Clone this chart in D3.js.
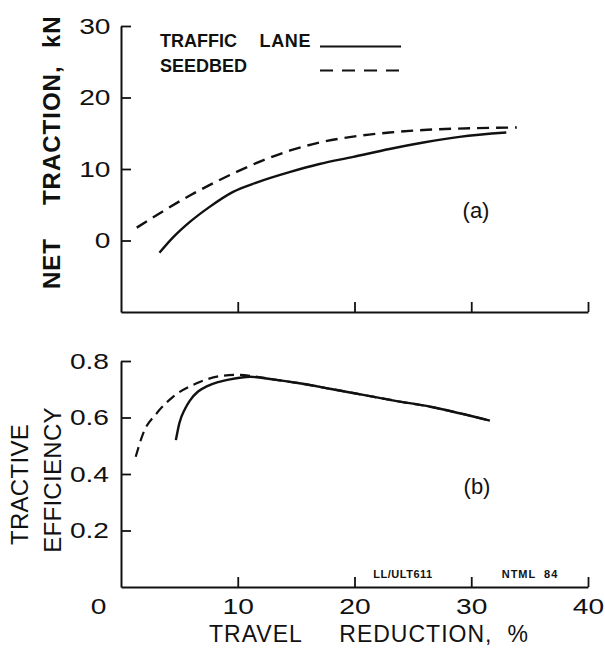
<!DOCTYPE html>
<html>
<head>
<meta charset="utf-8">
<script src="https://cdn.jsdelivr.net/npm/d3@7/dist/d3.min.js"></script>
<style>
  html, body { margin: 0; padding: 0; background: #fff; }
  svg { display: block; }
  text { font-family: "Liberation Sans", Arial, Helvetica, sans-serif; fill: #111; white-space: pre; }
</style>
</head>
<body>
<svg id="chart" width="605" height="654"></svg>
<script>
// ---- Data ----
// (a) Net traction, kN vs travel reduction, %
const tracTrafficX = [3.3, 4.5, 5.9, 7.5, 9.6, 11.6, 14.5, 17, 19.9, 23, 25.9, 29, 33.0];
const tracTrafficY = [-1.7, 0.5, 2.6, 4.6, 6.8, 8.1, 9.6, 10.7, 11.7, 12.8, 13.7, 14.5, 15.1];
const tracSeedX = [1.35, 3.5, 5.9, 8, 9.9, 12, 14.5, 17, 20.2, 23, 25.9, 30, 33.9];
const tracSeedY = [1.8, 4.0, 6.3, 8.1, 9.6, 11.1, 12.6, 13.7, 14.6, 15.1, 15.45, 15.7, 15.8];
// (b) Tractive efficiency vs travel reduction, %
const effTrafficX = [4.7, 5.0, 5.5, 5.9, 6.6, 7.34, 8.3, 9.34, 11.05, 13, 15, 18, 20.75, 23.5, 26.5, 29, 31.6];
const effTrafficY = [0.52, 0.58, 0.632, 0.660, 0.692, 0.710, 0.725, 0.735, 0.744, 0.735, 0.723, 0.701, 0.680, 0.659, 0.638, 0.615, 0.589];
const effSeedX = [1.26, 1.9, 3.06, 4.48, 6.48, 8.77, 10.2, 11.5, 13, 15, 18, 20.75, 23.5, 26.5, 29, 31.6];
const effSeedY = [0.461, 0.544, 0.615, 0.674, 0.721, 0.748, 0.751, 0.745, 0.735, 0.723, 0.701, 0.680, 0.659, 0.638, 0.615, 0.589];
// Ticks
const xTicks = [0, 10, 20, 30, 40];
const yTopTicks = [0, 10, 20, 30];
const yBotTicks = [0.2, 0.4, 0.6, 0.8];
const legendLabels = ["TRAFFIC LANE", "SEEDBED"];

// ---- Chart ----
const svg = d3.select("#chart");
svg.append("rect").attr("width", 605).attr("height", 654).attr("fill", "#fff");

const DX = 1.28; // wide digits of the printed tick labels

const x = d3.scaleLinear().domain([0, 40]).range([121, 588]);
const yTop = d3.scaleLinear().domain([-10, 30]).range([312, 26]);
const yBot = d3.scaleLinear().domain([0, 0.8]).range([587, 361]);

function styleAxis(g) {
  g.select(".domain").attr("stroke", "#111").attr("stroke-width", 2);
  g.selectAll(".tick line").attr("stroke", "#111").attr("stroke-width", 1.8);
  g.selectAll(".tick text").attr("font-size", 22).attr("fill", "#111")
    .attr("font-family", "Liberation Sans, Arial, sans-serif");
}

// Top panel axes
const gTopX = svg.append("g").attr("transform", `translate(0,${yTop(-10)})`)
  .call(d3.axisBottom(x).tickValues([10, 20, 30, 40]).tickSize(-10).tickSizeOuter(0).tickFormat(""));
styleAxis(gTopX);

const gTopY = svg.append("g").attr("transform", `translate(${x(0)},0)`)
  .call(d3.axisLeft(yTop).tickValues(yTopTicks).tickSize(-10).tickSizeOuter(0).tickPadding(10).tickFormat(d3.format("d")));
styleAxis(gTopY);
gTopY.selectAll(".tick text").attr("x", -10.5 / DX).attr("transform", `scale(${DX},1)`);

// Bottom panel axes
const gBotX = svg.append("g").attr("transform", `translate(0,${yBot(0)})`)
  .call(d3.axisBottom(x).tickValues(xTicks).tickSize(-10).tickSizeOuter(0).tickPadding(11).tickFormat(d3.format("d")));
styleAxis(gBotX);
gBotX.selectAll(".tick text").attr("transform", `scale(${DX},1)`)
  .filter(d => d === 0).attr("x", -23 / DX);
gBotX.selectAll(".tick line").filter(d => d === 0).remove();

const gBotY = svg.append("g").attr("transform", `translate(${x(0)},0)`)
  .call(d3.axisLeft(yBot).tickValues(yBotTicks).tickSize(-10).tickSizeOuter(0).tickPadding(10).tickFormat(d3.format(".1f")));
styleAxis(gBotY);
gBotY.selectAll(".tick text").attr("x", -12 / DX).attr("transform", `scale(${DX},1)`);

// Lines
const zip = (xs, ys) => xs.map((v, i) => [v, ys[i]]);
const lineTop = d3.line().x(d => x(d[0])).y(d => yTop(d[1])).curve(d3.curveMonotoneX);
const lineBot = d3.line().x(d => x(d[0])).y(d => yBot(d[1])).curve(d3.curveMonotoneX);

svg.append("path").attr("d", lineTop(zip(tracTrafficX, tracTrafficY)))
  .attr("fill", "none").attr("stroke", "#111").attr("stroke-width", 2.4);
svg.append("path").attr("d", lineTop(zip(tracSeedX, tracSeedY)))
  .attr("fill", "none").attr("stroke", "#111").attr("stroke-width", 2.4).attr("stroke-dasharray", "12,7");

svg.append("path").attr("d", lineBot(zip(effTrafficX, effTrafficY)))
  .attr("fill", "none").attr("stroke", "#111").attr("stroke-width", 2.4);
svg.append("path").attr("d", lineBot(zip(effSeedX, effSeedY)))
  .attr("fill", "none").attr("stroke", "#111").attr("stroke-width", 2.2).attr("stroke-dasharray", "10,6");

// Text helper
function label(px, py, opts = {}) {
  const rot = opts.rotate ? ` rotate(${opts.rotate})` : "";
  return svg.append("text")
    .attr("transform", `translate(${px},${py})${rot}`)
    .attr("text-anchor", opts.anchor || "start")
    .attr("font-size", opts.size || 20)
    .attr("font-weight", opts.weight || "normal")
    .attr("letter-spacing", opts.ls || 0);
}

// Legend
const lg = label(160, 47, { size: 18, weight: "bold" });
lg.append("tspan").text("TRAFFIC");
lg.append("tspan").attr("dx", 17).attr("letter-spacing", 0.6).text(" LANE");
label(160, 72, { size: 18, weight: "bold" }).text(legendLabels[1]);
svg.append("line").attr("x1", 320).attr("x2", 401).attr("y1", 46.5).attr("y2", 46.5)
  .attr("stroke", "#111").attr("stroke-width", 2.2);
svg.append("line").attr("x1", 320).attr("x2", 401).attr("y1", 70.5).attr("y2", 70.5)
  .attr("stroke", "#111").attr("stroke-width", 2.2).attr("stroke-dasharray", "13,9");

// Panel labels
label(476, 217.5, { size: 22, anchor: "middle" }).text("(a)");
label(477, 494, { size: 22, anchor: "middle" }).text("(b)");

// Stamps
label(403, 578, { size: 11, weight: "bold", anchor: "middle", ls: 0.5 }).text("LL/ULT611");
label(530, 578, { size: 11, weight: "bold", anchor: "middle", ls: 1 }).attr("word-spacing", 4).text("NTML 84");

// Axis titles
const xt = label(209, 642, { size: 23, ls: 1 });
xt.append("tspan").text("TRAVEL");
xt.append("tspan").attr("dx", 30).text(" REDUCTION,");
xt.append("tspan").attr("dx", 7.6).text(" %");

const yt = label(59.5, 289, { size: 24, weight: "bold", rotate: -90, ls: 1 });
yt.append("tspan").text("NET");
yt.append("tspan").attr("dx", 25.3).text(" TRACTION,");
yt.append("tspan").attr("dx", 9.6).text(" kN");

label(28.3, 484.5, { size: 24, anchor: "middle", rotate: -90, ls: 0.3 }).text("TRACTIVE");
label(60.7, 480, { size: 24, anchor: "middle", rotate: -90, ls: 0.3 }).text("EFFICIENCY");
</script>
</body>
</html>
